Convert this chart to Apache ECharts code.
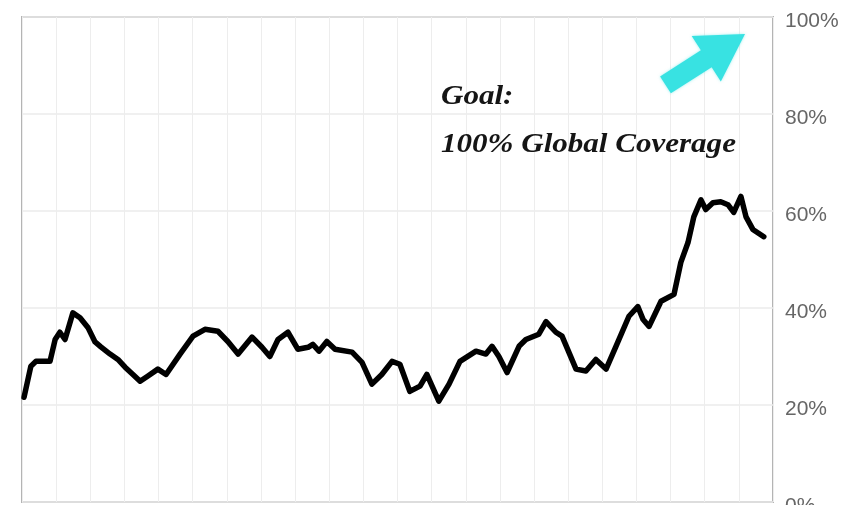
<!DOCTYPE html>
<html>
<head>
<meta charset="utf-8">
<script src="https://cdn.jsdelivr.net/npm/echarts@6/dist/echarts.min.js"></script>
<style>
  html, body { margin: 0; padding: 0; background: #fff; overflow: hidden; }
  #chart { width: 849px; height: 505px; }
</style>
</head>
<body>
<div id="chart"></div>
<script>
// Sampling period along the horizontal axis (0–220)
const period = [
  0.6, 2.6, 4.1, 8.2, 9.7, 11.1, 12.6, 14.9, 17.0, 19.3, 21.4, 23.1, 25.8, 28.1, 30.2, 32.5, 34.6, 36.9, 39.8, 42.2,
  46.3, 50.1, 53.6, 57.4, 60.3, 63.3, 67.4, 70.3, 72.6, 75.0, 77.9, 80.8, 83.8, 85.2,
  87.0, 89.3, 91.7, 96.7, 99.6, 102.5, 105.4, 108.4, 110.7, 113.6, 116.6, 118.6, 122.1, 125.1, 128.3,
  133.0, 135.9, 137.7, 139.7, 142.1, 145.6, 147.6, 151.4, 153.5, 156.4, 158.2, 162.3, 165.2, 168.1, 171.1,
  174.0, 177.8, 180.4, 181.9, 183.7, 187.2, 191.0, 193.0, 195.1, 196.8, 198.9, 200.3, 202.4, 204.7, 206.8, 208.5, 210.6, 212.1, 214.1, 217.3
];
// Coverage in percent
const coverage = [
  21.6, 28, 29, 29, 33.5, 35, 33.5, 39, 38, 36, 33, 32, 30.5, 29.4, 27.8, 26.3, 24.9, 26, 27.4, 26.3,
  30.5, 34.2, 35.6, 35.2, 33.1, 30.5, 34, 31.9, 30, 33.5, 35, 31.5, 31.9, 32.5,
  31.1, 33.1, 31.5, 30.9, 28.8, 24.3, 26.3, 29, 28.4, 22.8, 23.9, 26.3, 20.8, 24.3, 29,
  31.1, 30.5, 32.1, 30, 26.7, 32.1, 33.5, 34.6, 37.2, 35, 34.2, 27.4, 27, 29.4, 27.4,
  32.1, 38.3, 40.3, 37.7, 36.2, 41.4, 42.8, 49.4, 53.5, 58.8, 62.3, 60.3, 61.7, 61.9, 61.3, 59.7, 63, 58.8, 56.2, 54.7
];
// Right-hand axis ticks
const yTicks = [0, 20, 40, 60, 80, 100];
// Goal annotation text and arrow (in data units: [period, coverage])
const goalLines = ['Goal:', '100% Global Coverage'];
const arrowFrom = [188.5, 86];
const arrowTo = [211.8, 96.5];

const chart = echarts.init(document.getElementById('chart'), null, { renderer: 'canvas' });

const points = period.map((p, i) => [p, coverage[i]]);

chart.setOption({
  animation: false,
  backgroundColor: '#ffffff',
  grid: {
    left: 22, top: 17, right: 76, bottom: 3,
    outerBoundsMode: 'none', containLabel: false,
    show: true, borderColor: '#b4b4b4', borderWidth: 2, backgroundColor: 'transparent'
  },
  xAxis: {
    type: 'value', min: 0, max: 220, interval: 10,
    axisLine: { show: false }, axisTick: { show: false }, axisLabel: { show: false },
    splitLine: { show: true, lineStyle: { color: '#ededed', width: 1 } }
  },
  yAxis: {
    type: 'value', position: 'right', min: yTicks[0], max: yTicks[yTicks.length - 1], interval: 20,
    axisLine: { show: false }, axisTick: { show: false },
    axisLabel: {
      formatter: '{value}%', color: '#666', fontSize: 21,
      fontFamily: '"Liberation Sans", Arial, sans-serif',
      margin: 12, verticalAlign: 'top', lineHeight: 8
    },
    splitLine: { show: true, lineStyle: { color: '#ebebeb', width: 1.5 } }
  },
  series: [{
    type: 'line',
    data: points,
    symbol: 'none',
    lineStyle: { color: '#000', width: 5.5, join: 'round', cap: 'round' },
    z: 5
  }]
});

// Goal arrow, placed from data coordinates
const tail = chart.convertToPixel({ gridIndex: 0 }, arrowFrom);
const tip = chart.convertToPixel({ gridIndex: 0 }, arrowTo);
const dx = tip[0] - tail[0], dy = tip[1] - tail[1];
const len = Math.hypot(dx, dy);
const ux = dx / len, uy = dy / len;
const nx = -uy, ny = ux;
const headLen = 46, headHalf = 27, shaftHalf = 10;
const bx = tip[0] - ux * headLen, by = tip[1] - uy * headLen;
const arrowPts = [
  [tail[0] + nx * shaftHalf, tail[1] + ny * shaftHalf],
  [bx + nx * shaftHalf, by + ny * shaftHalf],
  [bx + nx * headHalf, by + ny * headHalf],
  [tip[0], tip[1]],
  [bx - nx * headHalf, by - ny * headHalf],
  [bx - nx * shaftHalf, by - ny * shaftHalf],
  [tail[0] - nx * shaftHalf, tail[1] - ny * shaftHalf]
];

const goalFont = 'italic bold 27px "Liberation Serif", "Times New Roman", serif';

chart.setOption({
  graphic: [
    {
      type: 'polygon', shape: { points: arrowPts },
      style: { fill: '#38e2e2', shadowColor: 'rgba(56,226,226,0.5)', shadowBlur: 3 }, z: 10
    },
    {
      type: 'text', x: 441, y: 97, scaleX: 1.15, z: 10,
      style: {
        text: goalLines[0], x: 0, y: 0, fill: '#151515', font: goalFont,
        align: 'left', verticalAlign: 'middle'
      }
    },
    {
      type: 'text', x: 441, y: 145, scaleX: 1.15, z: 10,
      style: {
        text: goalLines[1], x: 0, y: 0, fill: '#151515', font: goalFont,
        align: 'left', verticalAlign: 'middle'
      }
    }
  ]
});
</script>
</body>
</html>
